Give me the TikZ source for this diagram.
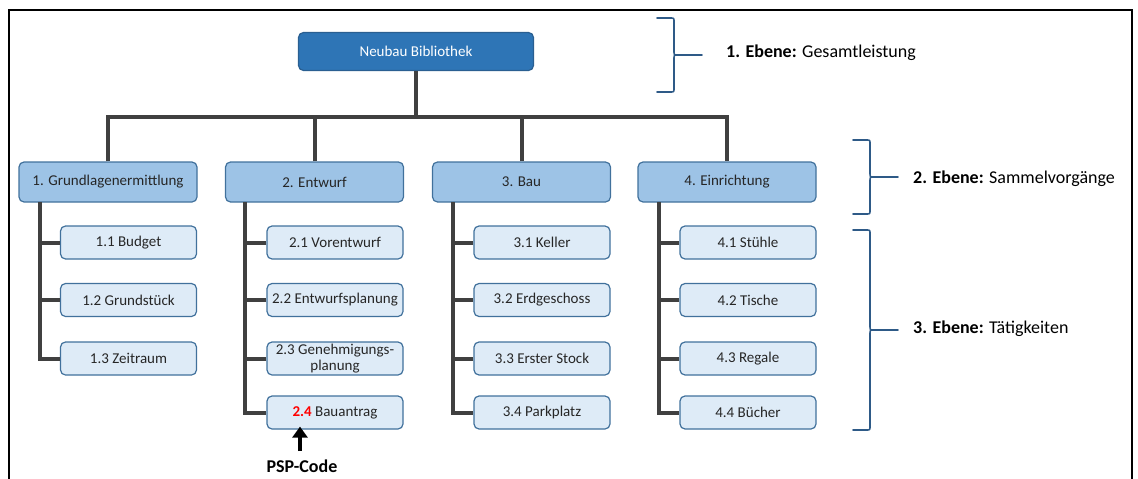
\documentclass[tikz,border=0pt]{standalone}
\usepackage{fontspec}
\setmainfont{Carlito}
\usetikzlibrary{arrows.meta}

\definecolor{rootfill}{HTML}{2E75B6}
\definecolor{rootedge}{HTML}{2A5F91}
\definecolor{phasefill}{HTML}{9DC3E6}
\definecolor{taskfill}{HTML}{DEEBF7}
\definecolor{boxedge}{HTML}{41719C}
\definecolor{linkgray}{HTML}{404040}
\definecolor{bracecol}{HTML}{2E5A87}
\definecolor{codered}{HTML}{FF0000}
\definecolor{boxtext}{HTML}{262626}

% right-hand curly brace: #1 left end of the arms, #2 top, #3 tip height, #4 bottom
\newcommand\drawlevelbrace[4]{%
  \draw[levelbrace] (#1,#2) -- (#1+13,#2) .. controls (#1+17,#2) .. (#1+17,#2+4)
     -- (#1+17,#3-4) .. controls (#1+17,#3) .. (#1+21,#3) -- (#1+45,#3);
  \draw[levelbrace] (#1,#4) -- (#1+13,#4) .. controls (#1+17,#4) .. (#1+17,#4-4)
     -- (#1+17,#3+4) .. controls (#1+17,#3) .. (#1+21,#3);
}

\begin{document}
\begin{tikzpicture}[x=1pt,y=-1pt,
  every node/.style={font=\fontsize{15}{16}\selectfont, text=boxtext, inner sep=0pt},
  rootbox/.style={draw=rootedge, fill=rootfill, line width=1.2pt, rounded corners=5pt,
    minimum width=235pt, minimum height=38pt, text=white},
  phasebox/.style={draw=boxedge, fill=phasefill, line width=1.2pt, rounded corners=5pt,
    minimum width=178pt, minimum height=40pt},
  taskbox/.style={draw=boxedge, fill=taskfill, line width=1.2pt, rounded corners=5pt,
    minimum width=136pt, minimum height=33pt, align=center},
  link/.style={draw=linkgray, line width=4pt},
  levelbrace/.style={draw=bracecol, line width=1.6pt, line cap=round},
  levellabel/.style={anchor=west, text=black, font=\fontsize{18}{20}\selectfont},
  pointer/.style={-{Triangle[width=15pt,length=11pt]}, line width=4.5pt, draw=black},
]
\useasboundingbox (0,0) rectangle (1138,479);

% outer frame, open at the bottom
\draw[line width=2pt] (9,479) -- (9,10) -- (1132,10) -- (1132,479);

% level 1
\node[rootbox] (root) at (416,51.5) {Neubau Bibliothek};

% level 2
\node[phasebox] (p1) at (108,182)   {1. Grundlagenermittlung};
\node[phasebox] (p2) at (314.5,182) {2. Entwurf};
\node[phasebox] (p3) at (521.5,182) {3. Bau};
\node[phasebox] (p4) at (727,182)   {4. Einrichtung};

% level 3
\node[taskbox] (t11) at (128.5,242.5) {1.1 Budget};
\node[taskbox] (t12) at (128.5,300)   {1.2 Grundstück};
\node[taskbox] (t13) at (128.5,358.5) {1.3 Zeitraum};

\node[taskbox] (t21) at (335,242.5) {2.1 Vorentwurf};
\node[taskbox] (t22) at (335,300)   {2.2 Entwurfsplanung};
\node[taskbox] (t23) at (335,358.5) {2.3 Genehmigungs-\\planung};
\node[taskbox] (t24) at (335,412.5) {\textcolor{codered}{\textbf{2.4}} Bauantrag};

\node[taskbox] (t31) at (542,242.5) {3.1 Keller};
\node[taskbox] (t32) at (542,300)   {3.2 Erdgeschoss};
\node[taskbox] (t33) at (542,358.5) {3.3 Erster Stock};
\node[taskbox] (t34) at (542,412.5) {3.4 Parkplatz};

\node[taskbox] (t41) at (748,242.5) {4.1 Stühle};
\node[taskbox] (t42) at (748,300)   {4.2 Tische};
\node[taskbox] (t43) at (748,358.5) {4.3 Regale};
\node[taskbox] (t44) at (748,412.5) {4.4 Bücher};

% tree connectors: root to phases
\coordinate (bus) at (416,117);
\draw[link] (root.south) -- (bus);
\draw[link] (p1.north) |- (bus) -| (p4.north);
\draw[link] (p2.north) -- (p2.north |- bus);
\draw[link] (p3.north) -- (p3.north |- bus);

% tree connectors: phases to tasks
\coordinate (s1) at (40,202);
\coordinate (s2) at (245,202);
\coordinate (s3) at (453,202);
\coordinate (s4) at (659,202);

\draw[link] (s1) |- (t13.west);
\draw[link] (t11.west) -- (t11.west -| s1);
\draw[link] (t12.west) -- (t12.west -| s1);

\draw[link] (s2) |- (t24.west);
\draw[link] (t21.west) -- (t21.west -| s2);
\draw[link] (t22.west) -- (t22.west -| s2);
\draw[link] (t23.west) -- (t23.west -| s2);

\draw[link] (s3) |- (t34.west);
\draw[link] (t31.west) -- (t31.west -| s3);
\draw[link] (t32.west) -- (t32.west -| s3);
\draw[link] (t33.west) -- (t33.west -| s3);

\draw[link] (s4) |- (t44.west);
\draw[link] (t41.west) -- (t41.west -| s4);
\draw[link] (t42.west) -- (t42.west -| s4);
\draw[link] (t43.west) -- (t43.west -| s4);

% code pointer
\node[font=\bfseries\fontsize{18}{20}\selectfont, text=black] (psp) at (302,466) {PSP-Code};
\coordinate (pspfoot) at (300,451);
\draw[pointer, shorten >=-3pt] (pspfoot) -- (pspfoot |- t24.south);

% level braces and labels
\drawlevelbrace{657}{18}{55}{92}
\drawlevelbrace{853}{140}{177}{214}
\drawlevelbrace{853}{230}{330}{430}

\node[levellabel] (lab1) at (726,53)  {\textbf{1. Ebene:} Gesamtleistung};
\node[levellabel] (lab2) at (913,179) {\textbf{2. Ebene:} Sammelvorgänge};
\node[levellabel] (lab3) at (913,329) {\textbf{3. Ebene:} Tätigkeiten};
\end{tikzpicture}
\end{document}
